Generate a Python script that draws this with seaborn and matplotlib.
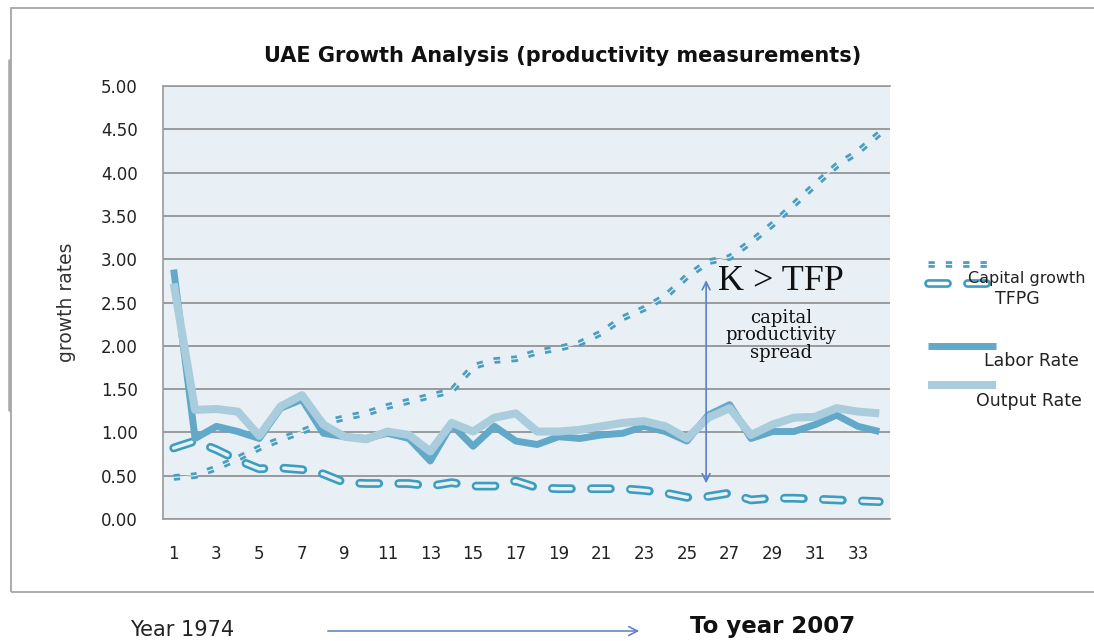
import matplotlib
matplotlib.use("Agg")
import matplotlib.pyplot as plt
from matplotlib.lines import Line2D
from matplotlib.patches import Rectangle, FancyArrowPatch
import seaborn as sns
import pandas as pd

# values, index 1 = 1974 ... 34 = 2007
years = list(range(1, 35))
capital_growth = [0.48, 0.50, 0.59, 0.70, 0.82, 0.92, 1.01, 1.11, 1.17, 1.22,
                  1.30, 1.36, 1.42, 1.48, 1.76, 1.83, 1.85, 1.93, 1.97, 2.03,
                  2.15, 2.32, 2.43, 2.57, 2.80, 2.97, 3.02, 3.20, 3.40, 3.63,
                  3.86, 4.08, 4.24, 4.45]
tfpg = [0.82, 0.90, 0.80, 0.68, 0.58, 0.59, 0.57, 0.52, 0.42, 0.41,
        0.41, 0.41, 0.38, 0.42, 0.38, 0.38, 0.44, 0.36, 0.35, 0.35,
        0.35, 0.35, 0.33, 0.30, 0.25, 0.26, 0.30, 0.22, 0.24, 0.24,
        0.23, 0.22, 0.21, 0.20]
labor_rate = [2.88, 0.93, 1.07, 1.01, 0.93, 1.28, 1.38, 0.99, 0.95, 0.93,
              0.99, 0.93, 0.67, 1.09, 0.84, 1.07, 0.90, 0.86, 0.95, 0.93,
              0.97, 0.99, 1.07, 1.01, 0.90, 1.20, 1.32, 0.93, 1.01, 1.01,
              1.09, 1.20, 1.07, 1.01]
output_rate = [2.72, 1.26, 1.27, 1.24, 0.96, 1.30, 1.43, 1.09, 0.95, 0.92,
               1.01, 0.97, 0.78, 1.11, 1.01, 1.17, 1.22, 1.01, 1.01, 1.03,
               1.07, 1.11, 1.13, 1.07, 0.93, 1.17, 1.28, 0.97, 1.09, 1.17,
               1.18, 1.28, 1.24, 1.22]
y_ticks = [0, 0.5, 1, 1.5, 2, 2.5, 3, 3.5, 4, 4.5, 5]
x_ticks = list(range(1, 34, 2))

df = pd.DataFrame({"year": years, "capital": capital_growth, "tfpg": tfpg,
                   "labor": labor_rate, "output": output_rate})

BG = "#e9f0f5"
CAP_C = "#4a9fc0"
TFP_C = "#3d9dbf"
LAB_C = "#62a8c8"
OUT_C = "#a9cddc"
FONT = "DejaVu Sans"

# line looks, reused for the legend keys
cap_styles = [dict(color=CAP_C, lw=4.8, linestyle=(0, (0.95, 1.65))),
              dict(color=BG, lw=0.8)]
tfp_styles = [dict(color=TFP_C, lw=6.3, linestyle=(0, (2.17, 2.29)),
                   dash_capstyle="round"),
              dict(color=BG, lw=2.5, linestyle=(0, (5.47, 5.76)),
                   dash_capstyle="round")]
lab_style = dict(color=LAB_C, lw=5.0, solid_capstyle="butt")
out_style = dict(color=OUT_C, lw=5.8, solid_capstyle="butt")

sns.set_theme(style="white")
plt.rcParams["font.family"] = [FONT]

fig = plt.figure(figsize=(10.94, 6.41), dpi=100)
ax = fig.add_axes([163 / 1094, 1 - 519 / 641, 727 / 1094, 433 / 641])
ax.set_facecolor(BG)

for i, st in enumerate(cap_styles):
    sns.lineplot(data=df, x="year", y="capital", ax=ax, zorder=3 + i * 0.1, **st)
for i, st in enumerate(tfp_styles):
    sns.lineplot(data=df, x="year", y="tfpg", ax=ax, zorder=3 + i * 0.1, **st)
sns.lineplot(data=df, x="year", y="labor", ax=ax, zorder=4, **lab_style)
sns.lineplot(data=df, x="year", y="output", ax=ax, zorder=4.1, **out_style)

ax.set_xlim(0.5, 34.5)
ax.set_ylim(0, 5)
ax.set_yticks(y_ticks)
ax.set_yticklabels([f"{v:.2f}" for v in y_ticks])
ax.set_xticks(x_ticks)
ax.tick_params(axis="both", length=0, labelsize=12, colors="#222222",
               labelfontfamily=FONT)
ax.tick_params(axis="y", pad=18)
ax.tick_params(axis="x", pad=19)
ax.yaxis.grid(True, color="#8c8c8c", lw=1.2)
ax.set_axisbelow(True)
for side in ["left", "top", "bottom"]:
    ax.spines[side].set_color("#9a9a9a")
    ax.spines[side].set_linewidth(1.2)
ax.spines["right"].set_visible(False)
ax.set_xlabel("")
ax.set_ylabel("growth rates", fontsize=13.5, family=FONT, color="#333333",
              labelpad=18)


def fy(p):
    return 1 - p / 641


def fx(p):
    return p / 1094


fig.text(fx(563), fy(56), "UAE Growth Analysis (productivity measurements)",
         fontsize=15, fontweight="bold", family=FONT, color="#111111",
         ha="center", va="center")

# spread annotation
ax.annotate("", xy=(25.9, 2.79), xytext=(25.9, 0.38),
            arrowprops=dict(arrowstyle="<->", color="#5a82c8", lw=1.2,
                            mutation_scale=14), zorder=6)
ax.text(29.4, 2.74, "K > TFP", family="Liberation Serif", fontsize=26,
        ha="center", va="center", color="#111111", zorder=6)
ax.text(29.4, 2.12, "capital\nproductivity\nspread", family="DejaVu Serif",
        fontsize=13, ha="center", va="center", color="#111111",
        linespacing=0.98, zorder=6)

# legend drawn to the right of the plot area
leg = [
    ("Capital growth", 264, 968, 279, 11.5, cap_styles),
    ("TFPG", 283, 995, 299, 12.5, tfp_styles),
    ("Labor Rate", 346, 984, 361, 12.5, [lab_style]),
    ("Output Rate", 385, 976, 401, 12.5, [out_style]),
]
for label, ly, tx, ty, fs, styles in leg:
    for st in styles:
        st = dict(st)
        if st["color"] == BG:
            st["color"] = "white"
        fig.add_artist(Line2D([fx(928), fx(996)], [fy(ly), fy(ly)],
                              transform=fig.transFigure, **st))
    fig.text(fx(tx), fy(ty), label, fontsize=fs, family=FONT,
             color="#222222", ha="left", va="center")

# outer chart frame
fig.add_artist(Rectangle((fx(11), fy(592)), 1.2, fy(8) - fy(592),
                         transform=fig.transFigure, fill=False,
                         edgecolor="#a6a6a6", lw=1.3))
fig.add_artist(Line2D([fx(9), fx(9)], [fy(60), fy(410)],
                      transform=fig.transFigure, color="#a8a8a8", lw=1.8))

# period caption under the chart
fig.text(fx(130), fy(630), "Year 1974", fontsize=15, family=FONT,
         color="#222222", ha="left", va="center")
fig.text(fx(690), fy(626), "To year 2007", fontsize=16.5, fontweight="bold",
         family=FONT, color="#111111", ha="left", va="center")
fig.add_artist(FancyArrowPatch(
    (fx(325), fy(631)), (fx(642), fy(631)), transform=fig.transFigure,
    arrowstyle="->", mutation_scale=16, color="#5b7fc0", lw=1.1))

fig.savefig("out.png", dpi=100)
